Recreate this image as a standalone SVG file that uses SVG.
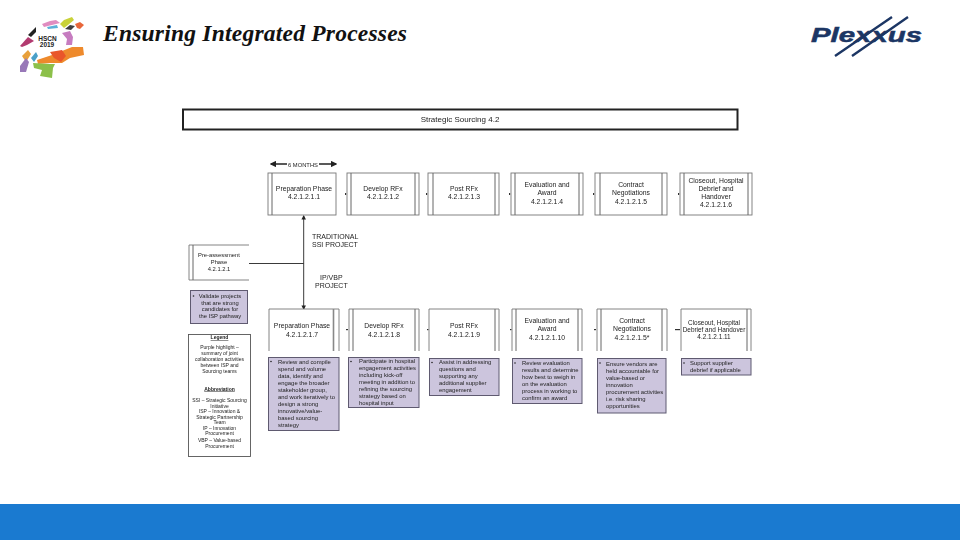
<svg xmlns="http://www.w3.org/2000/svg" width="960" height="540" viewBox="0 0 960 540">
<style>
text{font-family:"Liberation Sans",Arial,sans-serif;fill:#222}
.t{font-size:6.800px;text-anchor:middle}
.s{font-size:5.900px}
.l{font-size:5px;text-anchor:middle}
.m{font-size:5.800px;text-anchor:middle}
.box{fill:#fff;stroke:#777;stroke-width:.9}
.in{stroke:#666;stroke-width:1;fill:none}
.p{fill:#ccc5dd;stroke:#5f5a70;stroke-width:1}
.c{stroke:#222;stroke-width:.9;fill:none}
.tick{fill:#333}
</style>
<defs>
<filter id="b" x="-5%" y="-5%" width="110%" height="110%"><feGaussianBlur stdDeviation="0.32"/></filter>
<marker id="a" markerWidth="5" markerHeight="5" refX="4" refY="2.500" orient="auto-start-reverse"><path d="M0 0L5 2.500L0 5z" fill="#222"/></marker>
</defs>
<rect width="960" height="540" fill="#fff"/>
<rect id="footer" y="504" width="960" height="36" fill="#1a7ad0"/>
<text id="title" x="103" y="41" textLength="304" style="font-family:'Liberation Serif',serif;font-size:23.500px;font-weight:bold;font-style:italic;fill:#111">Ensuring Integrated Processes</text>
<g id="logo">
<polygon points="42,24 50,21 56,20 60,23 52,25 44,27" fill="#e08cc0"/>
<polygon points="60,24 64,20 72,17 74,20 68,25 64,28" fill="#c9d238"/>
<polygon points="65,29 70,25 75,26 71,30" fill="#3f3f3f"/>
<polygon points="75,24 80,22 84,25 80,29 77,28" fill="#e8663a"/>
<polygon points="62,33 70,31 73,37 72,45 66,45 67,39" fill="#c67cc0"/>
<polygon points="47,27 57,25 58,28 48,29" fill="#5cb0d8"/>
<polygon points="28,35 36,27 36,32 31,37" fill="#222"/>
<polygon points="20,46 28,37 34,41 27,45 22,47" fill="#b23a70"/>
<polygon points="22,56 28,50 31,54 26,62" fill="#e8a03a"/>
<polygon points="31,58 36,52 38,56 34,62" fill="#4aa0c8"/>
<polygon points="20,66 26,58 29,62 26,72 20,72" fill="#9878b8"/>
<polygon points="37,60 52,55 72,47 83,47 84,55 70,58 62,63 50,63 38,64" fill="#ee8a2c"/>
<polygon points="50,52 62,50 66,56 61,62 54,58" fill="#e9562a"/>
<polygon points="33,63 50,64 55,64 53,68 52,78 40,76 42,70 34,68" fill="#8cc04a"/>
<text x="47.500" y="40.500" style="font-size:6.500px;font-weight:bold;text-anchor:middle;fill:#222">HSCN</text>
<text x="47" y="46.500" style="font-size:6.500px;font-weight:bold;text-anchor:middle;fill:#222">2019</text>
</g>
<g id="plexxus">
<path d="M835 56L892 17M852 56L908 17" stroke="#1c3664" stroke-width="2.400" fill="none"/>
<text x="811" y="42" textLength="111" lengthAdjust="spacingAndGlyphs" style="font-size:19.500px;font-weight:bold;font-style:italic;fill:#1c3664;stroke:#1c3664;stroke-width:.5px">Plexxus</text>
</g>
<g filter="url(#b)">
<g id="connectors">
<path class="c" d="M271 164H336" marker-start="url(#a)" marker-end="url(#a)" style="stroke-width:1.300"/>
<path class="c" d="M303.700 216V309" marker-start="url(#a)" marker-end="url(#a)"/>
<path class="c" d="M249 263.500H303.700"/>
<rect class="tick" x="345" y="193" width="1.200" height="2"/>
<rect class="tick" x="426" y="193" width="1.200" height="2"/>
<rect class="tick" x="509" y="193" width="1.200" height="2"/>
<rect class="tick" x="593" y="193" width="1.200" height="2"/>
<rect class="tick" x="678" y="193" width="1.200" height="2"/>
<rect class="tick" x="346" y="329" width="2" height="1.200"/>
<rect class="tick" x="427" y="329" width="1.500" height="1.200"/>
<rect class="tick" x="510" y="329" width="1.500" height="1.200"/>
<rect class="tick" x="594" y="329" width="2" height="1.200"/>
<rect class="tick" x="675" y="329" width="5" height="1.200"/>
</g>
<g id="months"><rect x="287" y="161" width="32" height="6" fill="#fff"/><text x="303" y="166.500" style="font-size:5.800px;text-anchor:middle">6 MONTHS</text></g>
<g id="strategic"><rect x="183" y="109.500" width="554.500" height="20" fill="#fff" stroke="#222" stroke-width="2"/><text x="460" y="122" style="font-size:8px;text-anchor:middle">Strategic Sourcing 4.2</text></g>
<g id="n1"><rect class="box" x="268" y="173" width="68" height="42"/><path class="in" d="M272 173V215"/><text class="t" x="304" y="191">Preparation Phase</text><text class="t" x="304" y="199">4.2.1.2.1.1</text></g>
<g id="n2"><rect class="box" x="347" y="173" width="72" height="42"/><path class="in" d="M351 173V215M415 173V215"/><text class="t" x="383" y="191">Develop RFx</text><text class="t" x="383" y="199">4.2.1.2.1.2</text></g>
<g id="n3"><rect class="box" x="428" y="173" width="71" height="42"/><path class="in" d="M433 173V215M495 173V215"/><text class="t" x="464" y="191">Post RFx</text><text class="t" x="464" y="199">4.2.1.2.1.3</text></g>
<g id="n4"><rect class="box" x="511" y="173" width="72" height="42"/><path class="in" d="M515 173V215M579 173V215"/><text class="t" x="547" y="187">Evaluation and</text><text class="t" x="547" y="195">Award</text><text class="t" x="547" y="204">4.2.1.2.1.4</text></g>
<g id="n5"><rect class="box" x="595" y="173" width="72" height="42"/><path class="in" d="M600 173V215M662 173V215"/><text class="t" x="631" y="187">Contract</text><text class="t" x="631" y="195">Negotiations</text><text class="t" x="631" y="204">4.2.1.2.1.5</text></g>
<g id="n6"><rect class="box" x="680" y="173" width="72" height="42"/><path class="in" d="M684 173V215M748 173V215"/><text class="t" x="716" y="183">Closeout, Hospital</text><text class="t" x="716" y="191">Debrief and</text><text class="t" x="716" y="199">Handover</text><text class="t" x="716" y="207">4.2.1.2.1.6</text></g>
<g id="trad"><text x="312" y="239" style="font-size:7px">TRADITIONAL</text><text x="312" y="247" style="font-size:7px">SSI PROJECT</text></g>
<g id="ip"><text x="320" y="280" style="font-size:7px">IP/VBP</text><text x="315" y="288" style="font-size:7px">PROJECT</text></g>
<g id="pre"><path class="box" d="M249 245H189V280H249"/><path class="in" d="M193 245V280"/><text class="m" x="219" y="257">Pre-assessment</text><text class="m" x="219" y="264">Phase</text><text class="m" x="219" y="271">4.2.1.2.1</text></g>
<g id="validate"><rect class="p" x="190.500" y="290.500" width="57" height="33"/><circle cx="193.500" cy="296" r=".8" fill="#222"/><text class="m" x="220" y="298">Validate projects</text><text class="m" x="220" y="304.500">that are strong</text><text class="m" x="220" y="311">candidates for</text><text class="m" x="220" y="318">the ISP pathway</text></g>
<g id="legend"><rect class="box" x="188.500" y="334.500" width="62" height="122" style="stroke:#555"/><text class="l" x="219.500" y="339" style="text-decoration:underline;font-weight:bold">Legend</text><text class="l" x="219.500" y="349">Purple highlight –</text><text class="l" x="219.500" y="355">summary of joint</text><text class="l" x="219.500" y="360.500">collaboration activities</text><text class="l" x="219.500" y="366.500">between ISP and</text><text class="l" x="219.500" y="373">Sourcing teams</text><text class="l" x="219.500" y="390.500" style="text-decoration:underline;font-weight:bold">Abbreviation</text><text class="l" x="219.500" y="402">SSI – Strategic Sourcing</text><text class="l" x="219.500" y="407.500">Initiative</text><text class="l" x="219.500" y="413">ISP – Innovation &amp;</text><text class="l" x="219.500" y="418.500">Strategic Partnership</text><text class="l" x="219.500" y="424">Team</text><text class="l" x="219.500" y="429.500">IP – Innovation</text><text class="l" x="219.500" y="435">Procurement</text><text class="l" x="219.500" y="442">VBP – Value-based</text><text class="l" x="219.500" y="448">Procurement</text></g>
<g id="n7"><path class="box" d="M269 351V309H339V351"/><path class="in" d="M333.500 309V351" style="stroke-width:1.600;stroke:#888"/><text class="t" x="302" y="328">Preparation Phase</text><text class="t" x="302" y="337">4.2.1.2.1.7</text></g>
<g id="n8"><path class="box" d="M349 351V309H419V351"/><path class="in" d="M353 309V351M415 309V351"/><text class="t" x="384" y="328">Develop RFx</text><text class="t" x="384" y="337">4.2.1.2.1.8</text></g>
<g id="n9"><path class="box" d="M429 351V309H499V351"/><path class="in" d="M495 309V351"/><text class="t" x="464" y="328">Post RFx</text><text class="t" x="464" y="337">4.2.1.2.1.9</text></g>
<g id="n10"><path class="box" d="M512 351V309H582V351"/><path class="in" d="M516 309V351M578 309V351"/><text class="t" x="547" y="323">Evaluation and</text><text class="t" x="547" y="331">Award</text><text class="t" x="547" y="340">4.2.1.2.1.10</text></g>
<g id="n11"><path class="box" d="M597 351V309H667V351"/><path class="in" d="M601 309V351M662 309V351"/><text class="t" x="632" y="323">Contract</text><text class="t" x="632" y="331">Negotiations</text><text class="t" x="632" y="340">4.2.1.2.1.5*</text></g>
<g id="n12"><path class="box" d="M681 351V309H751V351"/><path class="in" d="M747 309V351"/><text class="t" x="714" y="325" style="font-size:6.400px">Closeout, Hospital</text><text class="t" x="714" y="332" style="font-size:6.400px">Debrief and Handover</text><text class="t" x="714" y="339" style="font-size:6.400px">4.2.1.2.1.11</text></g>
<g id="p1"><rect class="p" x="268.500" y="357.500" width="70.500" height="73"/><circle cx="271" cy="361.500" r=".8" fill="#222"/><g class="s"><text x="278" y="364">Review and compile</text><text x="278" y="371">spend and volume</text><text x="278" y="378">data, identify and</text><text x="278" y="385">engage the broader</text><text x="278" y="392">stakeholder group,</text><text x="278" y="399">and work iteratively to</text><text x="278" y="406">design a strong</text><text x="278" y="413">innovative/value-</text><text x="278" y="420">based sourcing</text><text x="278" y="427">strategy</text></g></g>
<g id="p2"><rect class="p" x="348.500" y="357.500" width="70.500" height="50"/><circle cx="351" cy="361.500" r=".8" fill="#222"/><g class="s"><text x="359" y="363">Participate in hospital</text><text x="359" y="370">engagement activities</text><text x="359" y="377">including kick-off</text><text x="359" y="384">meeting in addition to</text><text x="359" y="391">refining the sourcing</text><text x="359" y="398">strategy based on</text><text x="359" y="405">hospital input</text></g></g>
<g id="p3"><rect class="p" x="429.500" y="358.500" width="69.500" height="37"/><circle cx="432" cy="362.500" r=".8" fill="#222"/><g class="s"><text x="439" y="364">Assist in addressing</text><text x="439" y="371">questions and</text><text x="439" y="378">supporting any</text><text x="439" y="385">additional supplier</text><text x="439" y="392">engagement</text></g></g>
<g id="p4"><rect class="p" x="512.500" y="358.500" width="69.500" height="45"/><circle cx="515" cy="363" r=".8" fill="#222"/><g class="s"><text x="522" y="364.500">Review evaluation</text><text x="522" y="371.500">results and determine</text><text x="522" y="378.500">how best to weigh in</text><text x="522" y="385.500">on the evaluation</text><text x="522" y="392.500">process in working to</text><text x="522" y="399.500">confirm an award</text></g></g>
<g id="p5"><rect class="p" x="597.500" y="358.500" width="68.500" height="54.500"/><circle cx="600" cy="363" r=".8" fill="#222"/><g class="s"><text x="606" y="366">Ensure vendors are</text><text x="606" y="373">held accountable for</text><text x="606" y="380">value-based or</text><text x="606" y="387">innovation</text><text x="606" y="394">procurement activities</text><text x="606" y="401">i.e. risk sharing</text><text x="606" y="408">opportunities</text></g></g>
<g id="p6"><rect class="p" x="681.500" y="358.500" width="69.500" height="16.500"/><circle cx="684" cy="363" r=".8" fill="#222"/><g class="s"><text x="690" y="365">Support supplier</text><text x="690" y="372">debrief if applicable</text></g></g>
</g>
</svg>
